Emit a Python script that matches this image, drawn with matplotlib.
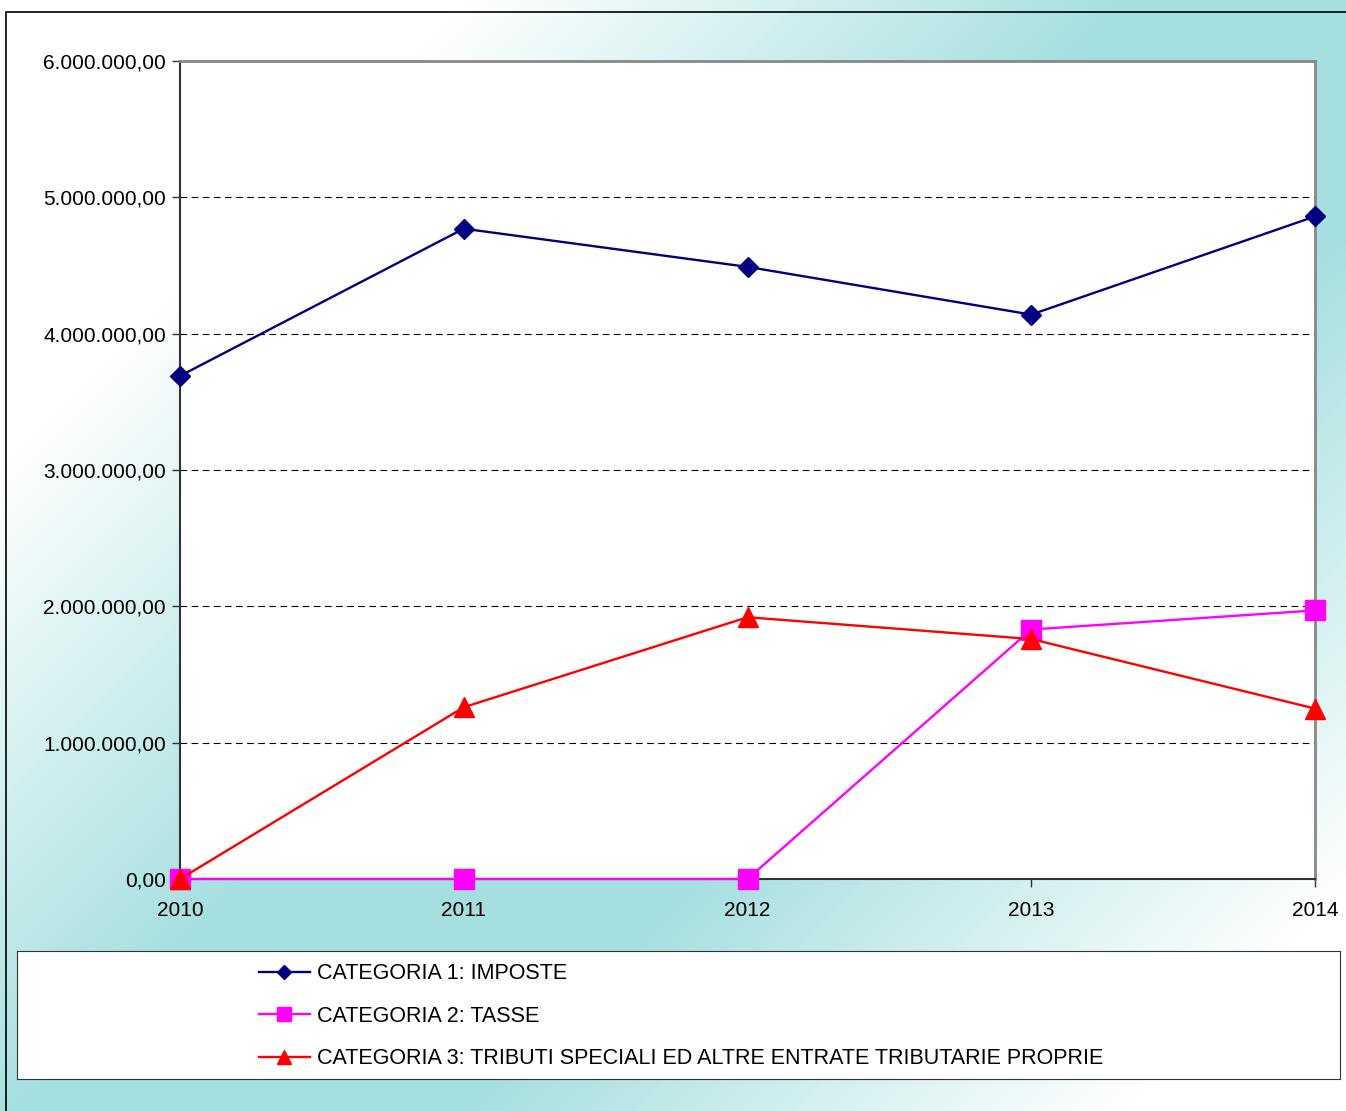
import numpy as np
import matplotlib
matplotlib.use("Agg")
import matplotlib.pyplot as plt
from matplotlib.patches import Rectangle
from matplotlib.ticker import FuncFormatter, MultipleLocator
from matplotlib.colors import LinearSegmentedColormap

plt.rcParams['font.family'] = ['Liberation Sans', 'DejaVu Sans']

# data
years = ['2010', '2011', '2012', '2013', '2014']
imposte = [3690000, 4770000, 4490000, 4140000, 4860000]
tasse = [0, 0, 0, 1830000, 1970000]
tributi = [0, 1260000, 1920000, 1760000, 1250000]
labels = ['CATEGORIA 1: IMPOSTE',
          'CATEGORIA 2: TASSE',
          'CATEGORIA 3: TRIBUTI SPECIALI ED ALTRE ENTRATE TRIBUTARIE PROPRIE']

W, H = 1346, 1111
fig = plt.figure(figsize=(W / 100, H / 100), dpi=100)

# background gradient: white near top-left and bottom-right, teal band across the other diagonal
bg = fig.add_axes([0, 0, 1, 1], zorder=-10)
xx, yy = np.meshgrid(np.arange(W), np.arange(H))
u = (xx + yy) / (W + H)
d = np.abs(u - 0.55)
t = np.clip((0.36 - d) / 0.27, 0, 1)
cmap = LinearSegmentedColormap.from_list('bgc', ['#ffffff', '#a6dfe0'])
bg.imshow(t, cmap=cmap, extent=[0, 1, 0, 1], origin='upper', aspect='auto')
bg.set_axis_off()

# outer frame
fig.patches.append(Rectangle((6 / W, -0.01), 1.0, (H - 12) / H + 0.01,
                             transform=fig.transFigure, fill=False,
                             edgecolor='black', linewidth=1.2, zorder=5))

def px(x0, y0, x1, y1):
    return [x0 / W, 1 - y1 / H, (x1 - x0) / W, (y1 - y0) / H]

ax = fig.add_axes(px(180, 61, 1315, 879))
ax.set_facecolor('white')
x = np.arange(len(years))

ax.plot(x, imposte, color='#000080', marker='D', markersize=10.5, lw=1.7,
        label=labels[0], clip_on=False, zorder=3)
ax.plot(x, tasse, color='#ff00ff', marker='s', markersize=15, lw=1.7,
        label=labels[1], clip_on=False, zorder=3)
ax.plot(x, tributi, color='#ff0000', marker='^', markersize=15, lw=1.7,
        label=labels[2], clip_on=False, zorder=4)

ax.set_xlim(0, len(years) - 1)
ax.set_ylim(0, 6000000)
ax.set_xticks(x)
ax.set_xticklabels(years)
ax.yaxis.set_major_locator(MultipleLocator(1000000))

def fmt(v, pos):
    s = '{:,.2f}'.format(v)
    return s.replace(',', 'X').replace('.', ',').replace('X', '.')

ax.yaxis.set_major_formatter(FuncFormatter(fmt))
ax.grid(axis='y', color='black', linestyle=(0, (6, 4)), linewidth=0.8)
ax.tick_params(axis='both', labelsize=15, colors='#333333', labelcolor='black',
               length=6, width=1)
ax.tick_params(axis='x', pad=10)
ax.tick_params(axis='y', pad=4)
for side in ['top', 'right']:
    ax.spines[side].set_color('#888888')
    ax.spines[side].set_linewidth(2)
for side in ['left', 'bottom']:
    ax.spines[side].set_color('#333333')
    ax.spines[side].set_linewidth(1.5)

# legend box
lax = fig.add_axes(px(17, 951, 1340, 1079))
lax.set_xticks([])
lax.set_yticks([])
lax.set_facecolor('white')
for s in lax.spines.values():
    s.set_color('#333333')
handles, labs = ax.get_legend_handles_labels()
leg = lax.legend(handles, labs, loc='center left', bbox_to_anchor=(0.168, 0.49),
                 frameon=False, fontsize=15.5, handlelength=2.4,
                 handletextpad=0.3, labelspacing=1.0, markerscale=0.7)

fig.savefig('out.png', dpi=100)
